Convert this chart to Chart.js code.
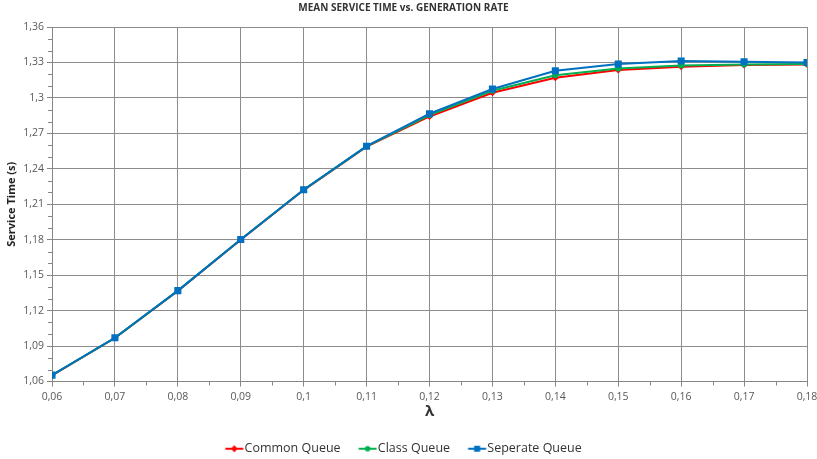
<!DOCTYPE html>
<html><head><meta charset="utf-8">
<script src="https://cdn.jsdelivr.net/npm/chart.js@4/dist/chart.umd.min.js"></script>
<style>html,body{margin:0;padding:0;background:#fff}</style>
</head><body>
<canvas id="c" width="817" height="459" style="width:817px;height:459px;display:block"></canvas>
<script>
const lambdas = [0.06, 0.07, 0.08, 0.09, 0.10, 0.11, 0.12, 0.13, 0.14, 0.15, 0.16, 0.17, 0.18];
const commonQueue   = [1.0652, 1.0968, 1.1366, 1.1800, 1.2220, 1.2588, 1.2843, 1.3043, 1.3171, 1.3237, 1.3263, 1.3278, 1.3283];
const classQueue    = [1.0653, 1.0969, 1.1368, 1.1801, 1.2222, 1.2590, 1.2855, 1.3060, 1.3192, 1.3249, 1.3274, 1.3283, 1.3286];
const seperateQueue = [1.0654, 1.0970, 1.1369, 1.1802, 1.2223, 1.2591, 1.2866, 1.3075, 1.3229, 1.3286, 1.3312, 1.3306, 1.3300];
const seriesNames = ['Common Queue', 'Class Queue', 'Seperate Queue'];
const xTicks = [0.06, 0.18, 0.01];
const yTicks = [1.06, 1.36, 0.03];

const FONT = '"Open Sans", "Liberation Sans", sans-serif';
const colors = ['#FF0000', '#00B050', '#0070C0'];
const styles = ['rectRot', 'circle', 'rect'];
const radii = [3.5, 3, 5];

function legendIcon(color, style) {
  const cv = document.createElement('canvas');
  cv.width = 36; cv.height = 10;
  const g = cv.getContext('2d');
  g.translate(11.5, 0);
  g.strokeStyle = color; g.fillStyle = color; g.lineWidth = 2;
  g.beginPath(); g.moveTo(0, 5); g.lineTo(18, 5); g.stroke();
  g.beginPath();
  if (style === 'rect') g.rect(6, 2, 6, 6);
  else if (style === 'circle') g.arc(9, 5, 2.8, 0, Math.PI * 2);
  else { g.moveTo(9, 1.5); g.lineTo(12.5, 5); g.lineTo(9, 8.5); g.lineTo(5.5, 5); g.closePath(); }
  g.fill();
  return cv;
}

const allSeries = [commonQueue, classQueue, seperateQueue];
const datasets = allSeries.map((vals, i) => ({
  label: seriesNames[i],
  data: lambdas.map((x, k) => ({ x: x, y: vals[k] })),
  borderColor: colors[i],
  backgroundColor: colors[i],
  borderWidth: 2,
  pointStyle: styles[i],
  pointRadius: radii[i],
  pointBorderWidth: 0,
  pointHoverRadius: radii[i],
  tension: 0,
  order: 2 - i
}));

const fmt = v => Number(v.toFixed(2)).toString().replace('.', ',');

const minorTicks = {
  id: 'minorTicks',
  afterDraw(chart) {
    const { ctx, chartArea, scales } = chart;
    ctx.save();
    ctx.strokeStyle = '#868686';
    ctx.lineWidth = 1;
    ctx.beginPath();
    for (let v = Math.round(yTicks[0] * 100); v <= Math.round(yTicks[1] * 100); v++) {
      if ((v - Math.round(yTicks[0] * 100)) % 3 === 0) continue;
      const y = Math.round(scales.y.getPixelForValue(v / 100)) + 0.5;
      ctx.moveTo(chartArea.left - 4, y); ctx.lineTo(chartArea.left, y);
    }
    for (let v = Math.round(xTicks[0] * 1000); v < Math.round(xTicks[1] * 1000); v += 10) {
      const x = Math.round(scales.x.getPixelForValue((v + 5) / 1000)) + 0.5;
      ctx.moveTo(x, chartArea.bottom); ctx.lineTo(x, chartArea.bottom + 4);
    }
    ctx.stroke();
    ctx.restore();
  }
};

new Chart(document.getElementById('c'), {
  type: 'line',
  data: { datasets },
  options: {
    responsive: false,
    animation: false,
    layout: { padding: { left: 0, right: 10, top: 0, bottom: -6 } },
    plugins: {
      tooltip: { enabled: false },
      title: {
        display: true,
        text: 'MEAN SERVICE TIME vs. GENERATION RATE',
        color: '#333333',
        font: { family: FONT, size: 10, weight: 'bold' },
        padding: { top: 2, bottom: 13 }
      },
      legend: {
        position: 'bottom',
        labels: {
          usePointStyle: true,
          pointStyleWidth: 13,
          boxHeight: 10,
          padding: 18,
          color: '#333333',
          font: { family: FONT, size: 12.5 },
          generateLabels(chart) {
            return chart.data.datasets.map((ds, i) => ({
              text: ds.label,
              pointStyle: legendIcon(colors[i], styles[i]),
              fillStyle: colors[i],
              strokeStyle: colors[i],
              lineWidth: 0,
              hidden: false,
              datasetIndex: i,
              fontColor: '#333333'
            }));
          }
        }
      }
    },
    scales: {
      x: {
        type: 'linear',
        min: xTicks[0], max: xTicks[1],
        afterBuildTicks(scale) {
          const t = [];
          for (let v = Math.round(xTicks[0] * 100); v <= Math.round(xTicks[1] * 100); v++) t.push({ value: v / 100 });
          scale.ticks = t;
        },
        ticks: {
          callback: v => fmt(v),
          color: '#595959',
          font: { family: FONT, size: 10.5 },
          maxRotation: 0, autoSkip: false, padding: 4
        },
        grid: { color: '#8c8c8c', lineWidth: 1, tickLength: 5, tickColor: '#868686' },
        border: { color: '#868686' },
        title: {
          display: true, text: 'λ', color: '#333333',
          font: { family: FONT, size: 15, weight: 'bold' },
          padding: { top: 0, bottom: 4 }
        },
        afterFit(scale) { scale.height = 43; scale.paddingRight = 0; }
      },
      y: {
        type: 'linear',
        min: yTicks[0], max: yTicks[1],
        afterBuildTicks(scale) {
          const t = [];
          for (let v = Math.round(yTicks[0] * 100); v <= Math.round(yTicks[1] * 100); v += Math.round(yTicks[2] * 100)) t.push({ value: v / 100 });
          scale.ticks = t;
        },
        ticks: {
          callback: v => fmt(v),
          color: '#595959',
          font: { family: FONT, size: 10.5 },
          padding: 3
        },
        grid: { color: '#8c8c8c', lineWidth: 1, tickLength: 5, tickColor: '#868686' },
        border: { color: '#868686' },
        title: {
          display: true, text: 'Service Time (s)', color: '#222222',
          font: { family: FONT, size: 11, weight: 'bold' },
          padding: { top: 5, bottom: 0 }
        },
        afterFit(scale) { scale.width = 52; }
      }
    }
  },
  plugins: [minorTicks]
});
</script>
</body></html>
